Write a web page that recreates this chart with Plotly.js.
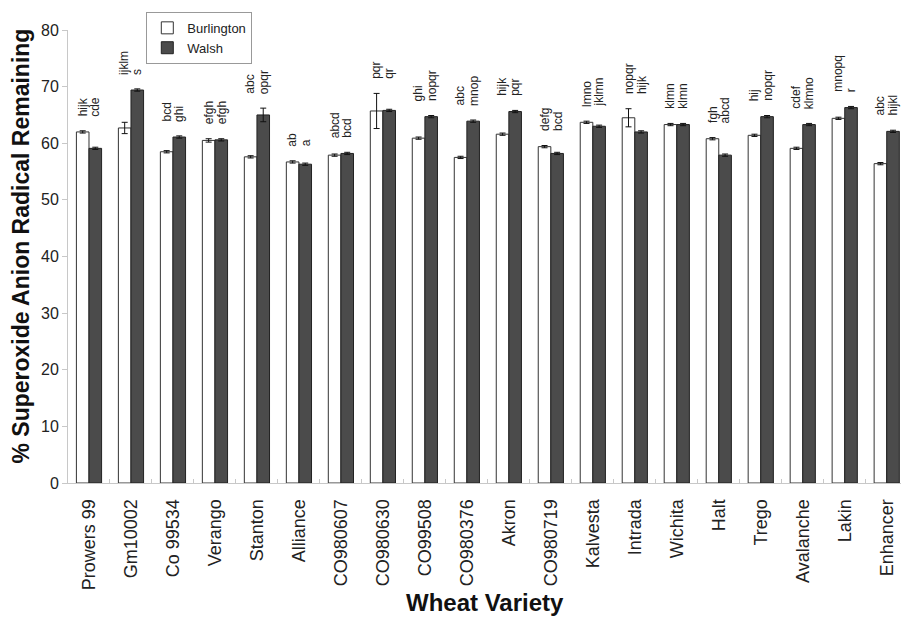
<!DOCTYPE html>
<html>
<head>
<meta charset="utf-8">
<script src="https://cdn.plot.ly/plotly-3.0.1.min.js"></script>
<style>html,body{margin:0;padding:0;background:#fff;}#chart{width:901px;height:620px;}</style>
</head>
<body>
<div id="chart"></div>
<script>
var categories = ['Prowers 99','Gm10002','Co 99534','Verango','Stanton','Alliance','CO980607','CO980630','CO99508','CO980376','Akron','CO980719','Kalvesta','Intrada','Wichita','Halt','Trego','Avalanche','Lakin','Enhancer'];
var burlington = [62.0,62.7,58.5,60.5,57.6,56.7,57.9,65.7,60.9,57.5,61.6,59.4,63.7,64.5,63.3,60.8,61.4,59.1,64.4,56.4];
var walsh = [59.1,69.4,61.1,60.6,65.0,56.3,58.2,65.8,64.7,63.9,65.6,58.2,63.0,62.0,63.3,57.9,64.7,63.3,66.3,62.1];
var burlingtonErr = [0.2,1.0,0.2,0.3,0.2,0.2,0.2,3.1,0.2,0.2,0.2,0.2,0.2,1.6,0.2,0.2,0.2,0.2,0.2,0.2];
var walshErr = [0.2,0.2,0.2,0.2,1.2,0.2,0.2,0.2,0.2,0.2,0.2,0.2,0.2,0.2,0.2,0.2,0.2,0.2,0.2,0.2];
var burlingtonLetters = ['hijk','ijklm','bcd','efgh','abc','ab','abcd','pqr','ghi','abc','hijk','defg','lmno','nopqr','klmn','fgh','hij','cdef','mnopq','abc'];
var walshLetters = ['cde','s','ghi','efgh','opqr','a','bcd','qr','nopqr','mnop','pqr','bcd','jklmn','hijk','klmn','abcd','nopqr','klmno','r','hijkl'];

var FONT = 'Liberation Sans, Arial, sans-serif';

var traces = [
  {
    type: 'bar', name: 'Burlington', x: categories, y: burlington,
    marker: {color: '#ffffff', line: {color: '#333333', width: 1}},
    error_y: {type: 'data', array: burlingtonErr, visible: true, color: '#111', thickness: 1, width: 3}
  },
  {
    type: 'bar', name: 'Walsh', x: categories, y: walsh,
    marker: {color: '#4b4b4b', line: {color: '#222222', width: 1}},
    error_y: {type: 'data', array: walshErr, visible: true, color: '#111', thickness: 1, width: 3}
  }
];

var annotations = [];
categories.forEach(function (c, i) {
  var top = Math.max(burlington[i] + burlingtonErr[i], walsh[i] + walshErr[i]) + 2.2;
  annotations.push({x: c, y: top, xref: 'x', yref: 'y', text: burlingtonLetters[i], showarrow: false,
    textangle: -90, xanchor: 'center', yanchor: 'bottom', xshift: -6.5,
    font: {family: FONT, size: 12, color: '#222'}});
  annotations.push({x: c, y: top, xref: 'x', yref: 'y', text: walshLetters[i], showarrow: false,
    textangle: -90, xanchor: 'center', yanchor: 'bottom', xshift: 6.5,
    font: {family: FONT, size: 12, color: '#222'}});
});
annotations.push({x: 0.5, y: -0.264, xref: 'paper', yref: 'paper', text: '<b>Wheat Variety</b>', showarrow: false,
  xanchor: 'center', yanchor: 'middle', font: {family: FONT, size: 24, color: '#111'}});
annotations.push({x: -0.0564, y: 0.522, xref: 'paper', yref: 'paper', text: '<b>% Superoxide Anion Radical Remaining</b>', showarrow: false,
  textangle: -90, xanchor: 'center', yanchor: 'middle', font: {family: FONT, size: 23, color: '#111'}});

var layout = {
  width: 901, height: 620,
  margin: {l: 68, r: 0, t: 30, b: 137, pad: 0},
  paper_bgcolor: '#fff', plot_bgcolor: '#fff',
  font: {family: FONT, color: '#222'},
  barmode: 'group', bargap: 0.4, bargroupgap: 0,
  showlegend: true,
  legend: {x: 0.094, y: 1.04, xanchor: 'left', yanchor: 'top', bgcolor: '#fff', bordercolor: '#999', borderwidth: 1,
    font: {family: FONT, size: 13, color: '#222'}, itemwidth: 30, tracegroupgap: 0},
  xaxis: {type: 'category', range: [-0.5, 19.34], tickson: 'boundaries', ticks: 'inside', ticklen: 4, tickcolor: '#c8c8c8',
    showline: true, linecolor: '#c8c8c8', linewidth: 1, showgrid: false, zeroline: false, tickangle: -90,
    ticklabelstandoff: 8,
    tickfont: {family: FONT, size: 18, color: '#222'}, fixedrange: true},
  yaxis: {range: [0, 80], dtick: 10, ticks: 'outside', ticklen: 5, tickcolor: '#c8c8c8',
    showline: true, linecolor: '#c8c8c8', linewidth: 1, showgrid: false, zeroline: false,
    tickfont: {family: FONT, size: 16, color: '#222'}, fixedrange: true},
  annotations: annotations
};

Plotly.newPlot('chart', traces, layout, {displayModeBar: false, staticPlot: true});
</script>
</body>
</html>
